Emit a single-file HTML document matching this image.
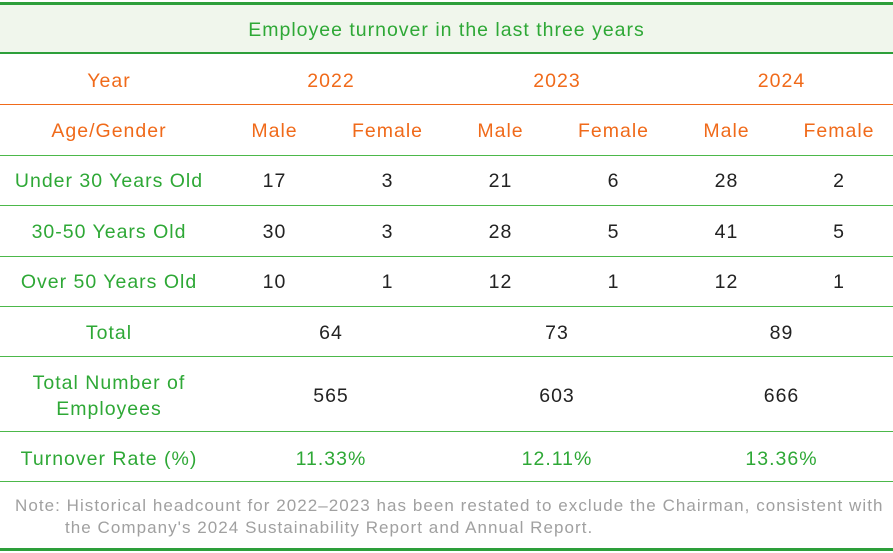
<!DOCTYPE html>
<html><head><style>
body{margin:0;width:893px;height:553px;background:#fff;position:relative;overflow:hidden;font-family:"Liberation Sans",sans-serif;font-size:19.5px;letter-spacing:1px}
.c{position:absolute;text-align:center;white-space:nowrap}
.g{color:#2ea836}.o{color:#f06a1a}.k{color:#222}
.hl{position:absolute;left:0;width:893px;height:1px;background:#4cb84a}
</style></head><body>
<div style="position:absolute;left:0;top:2px;width:893px;height:3px;background:#2d9f3a"></div>
<div style="position:absolute;left:0;top:5px;width:893px;height:48px;background:#f0f6ec"></div>
<div style="position:absolute;left:0;top:52px;width:893px;height:2px;background:#2d9f3a"></div>
<div class="c g" style="left:0;width:893px;top:19px">Employee turnover in the last three years</div>

<div class="c o" style="left:0;width:218px;top:70px">Year</div>
<div class="c o" style="left:218px;width:226px;top:70px">2022</div>
<div class="c o" style="left:444px;width:226px;top:70px">2023</div>
<div class="c o" style="left:670px;width:223px;top:70px">2024</div>
<div class="hl" style="top:104px;background:#f06a1a"></div>

<div class="c o" style="left:0;width:218px;top:120px">Age/Gender</div>
<div class="c o" style="left:218px;width:113px;top:120px">Male</div>
<div class="c o" style="left:331px;width:113px;top:120px">Female</div>
<div class="c o" style="left:444px;width:113px;top:120px">Male</div>
<div class="c o" style="left:557px;width:113px;top:120px">Female</div>
<div class="c o" style="left:670px;width:113px;top:120px">Male</div>
<div class="c o" style="left:783px;width:112px;top:120px">Female</div>
<div class="hl" style="top:155px"></div>

<div class="c g" style="left:0;width:218px;top:170px">Under 30 Years Old</div>
<div class="c k" style="left:218px;width:113px;top:170px">17</div>
<div class="c k" style="left:331px;width:113px;top:170px">3</div>
<div class="c k" style="left:444px;width:113px;top:170px">21</div>
<div class="c k" style="left:557px;width:113px;top:170px">6</div>
<div class="c k" style="left:670px;width:113px;top:170px">28</div>
<div class="c k" style="left:783px;width:112px;top:170px">2</div>
<div class="hl" style="top:205px"></div>

<div class="c g" style="left:0;width:218px;top:221px">30-50 Years Old</div>
<div class="c k" style="left:218px;width:113px;top:221px">30</div>
<div class="c k" style="left:331px;width:113px;top:221px">3</div>
<div class="c k" style="left:444px;width:113px;top:221px">28</div>
<div class="c k" style="left:557px;width:113px;top:221px">5</div>
<div class="c k" style="left:670px;width:113px;top:221px">41</div>
<div class="c k" style="left:783px;width:112px;top:221px">5</div>
<div class="hl" style="top:256px"></div>

<div class="c g" style="left:0;width:218px;top:271px">Over 50 Years Old</div>
<div class="c k" style="left:218px;width:113px;top:271px">10</div>
<div class="c k" style="left:331px;width:113px;top:271px">1</div>
<div class="c k" style="left:444px;width:113px;top:271px">12</div>
<div class="c k" style="left:557px;width:113px;top:271px">1</div>
<div class="c k" style="left:670px;width:113px;top:271px">12</div>
<div class="c k" style="left:783px;width:112px;top:271px">1</div>
<div class="hl" style="top:306px"></div>

<div class="c g" style="left:0;width:218px;top:322px">Total</div>
<div class="c k" style="left:218px;width:226px;top:322px">64</div>
<div class="c k" style="left:444px;width:226px;top:322px">73</div>
<div class="c k" style="left:670px;width:223px;top:322px">89</div>
<div class="hl" style="top:356px"></div>

<div class="c g" style="left:0;width:218px;top:370px;line-height:26px">Total Number of<br>Employees</div>
<div class="c k" style="left:218px;width:226px;top:385px">565</div>
<div class="c k" style="left:444px;width:226px;top:385px">603</div>
<div class="c k" style="left:670px;width:223px;top:385px">666</div>
<div class="hl" style="top:431px"></div>

<div class="c g" style="left:0;width:218px;top:448px">Turnover Rate (%)</div>
<div class="c g" style="left:218px;width:226px;top:448px">11.33%</div>
<div class="c g" style="left:444px;width:226px;top:448px">12.11%</div>
<div class="c g" style="left:670px;width:223px;top:448px">13.36%</div>
<div class="hl" style="top:481px"></div>

<div style="position:absolute;left:15px;top:495px;width:878px;color:#a0a0a0;font-size:17px;letter-spacing:1.05px;line-height:22px;white-space:nowrap">Note: Historical headcount for 2022–2023 has been restated to exclude the Chairman, consistent with<br><span style="padding-left:50px">the Company's 2024 Sustainability Report and Annual Report.</span></div>
<div style="position:absolute;left:0;top:548px;width:893px;height:3px;background:#2d9f3a"></div>
</body></html>
